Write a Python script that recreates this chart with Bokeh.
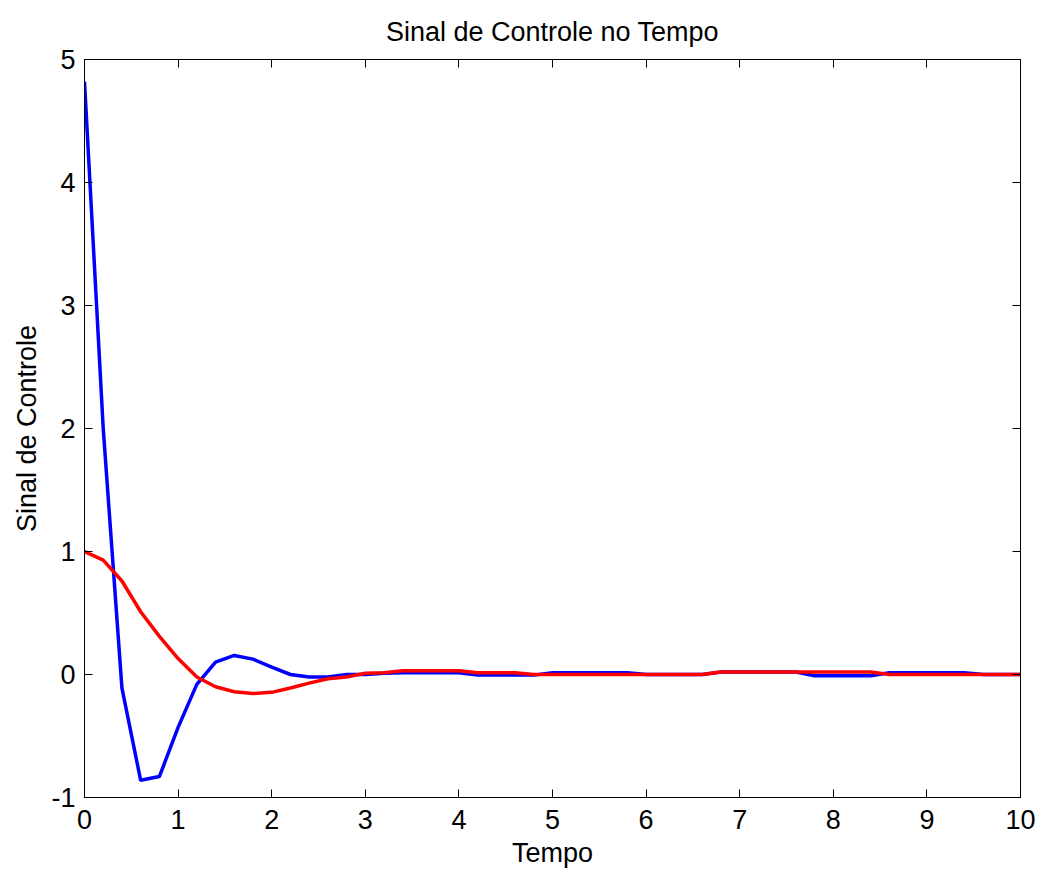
from bokeh.plotting import figure
from bokeh.models import LinearAxis, Range1d, FixedTicker, CustomJSTickFormatter
from bokeh.embed import file_html
from bokeh.resources import INLINE

t = [0.0, 0.2, 0.4, 0.6, 0.8, 1.0, 1.2, 1.4, 1.6, 1.8,
     2.0, 2.2, 2.4, 2.6, 2.8, 3.0, 3.2, 3.4, 3.6, 3.8,
     4.0, 4.2, 4.4, 4.6, 4.8, 5.0, 5.2, 5.4, 5.6, 5.8,
     6.0, 6.2, 6.4, 6.6, 6.8, 7.0, 7.2, 7.4, 7.6, 7.8,
     8.0, 8.2, 8.4, 8.6, 8.8, 9.0, 9.2, 9.4, 9.6, 9.8, 10.0]

u_blue = [4.82, 2.00, -0.11, -0.86, -0.83, -0.43, -0.08, 0.10, 0.155, 0.125,
          0.06, 0.0, -0.02, -0.02, 0.0, 0.0, 0.01, 0.015, 0.015, 0.015,
          0.015, -0.005, -0.005, -0.005, -0.005, 0.015, 0.015, 0.015, 0.015, 0.015,
          0.0, 0.0, 0.0, 0.0, 0.02, 0.02, 0.02, 0.02, 0.02, -0.01,
          -0.01, -0.01, -0.01, 0.015, 0.015, 0.015, 0.015, 0.015, 0.0, 0.0, 0.0]

u_red = [1.0, 0.93, 0.76, 0.51, 0.31, 0.13, -0.02, -0.10, -0.14, -0.155,
         -0.145, -0.11, -0.07, -0.035, -0.02, 0.01, 0.015, 0.03, 0.03, 0.03,
         0.03, 0.015, 0.015, 0.015, 0.0, 0.0, 0.0, 0.0, 0.0, 0.0,
         0.0, 0.0, 0.0, 0.0, 0.02, 0.02, 0.02, 0.02, 0.02, 0.02,
         0.02, 0.02, 0.02, 0.0, 0.0, 0.0, 0.0, 0.0, 0.0, 0.0, 0.0]

x_ticks = [0, 1, 2, 3, 4, 5, 6, 7, 8, 9, 10]
y_ticks = [-1, 0, 1, 2, 3, 4, 5]
y_tick_labels = ["-1", "0", "1", "2", "3", "4", "5"]

title_text = "Sinal de Controle no Tempo"
x_label = "Tempo"
y_label = "Sinal de Controle"

FONT = "Liberation Sans"
FS = "27px"

p = figure(frame_width=936, frame_height=738,
           x_range=Range1d(0, 10), y_range=Range1d(-1, 5),
           output_backend="svg", toolbar_location=None,
           min_border_left=84, min_border_right=22,
           min_border_top=59, min_border_bottom=77,
           title=title_text)

p.title.align = "center"
p.title.text_font = FONT
p.title.text_font_size = FS
p.title.text_font_style = "normal"
p.title.text_color = "black"
p.title.standoff = 26

p.xgrid.visible = False
p.ygrid.visible = False
p.outline_line_color = "black"
p.outline_line_width = 1
p.background_fill_color = "white"
p.border_fill_color = "white"

def style_axis(ax, ticks, label=None, show_labels=True, standoff=9):
    ax.ticker = FixedTicker(ticks=ticks)
    ax.major_tick_in = 8
    ax.major_tick_out = 0
    ax.minor_tick_in = 0
    ax.minor_tick_out = 0
    ax.axis_line_color = "black"
    ax.major_tick_line_color = "black"
    ax.major_label_text_font = FONT
    ax.major_label_text_font_size = FS
    ax.major_label_text_color = "black"
    ax.major_label_standoff = standoff
    if not show_labels:
        ax.formatter = CustomJSTickFormatter(code="return ''")
        ax.major_label_standoff = 0
    if label is not None:
        ax.axis_label = label
        ax.axis_label_text_font = FONT
        ax.axis_label_text_font_size = FS
        ax.axis_label_text_font_style = "normal"
        ax.axis_label_text_color = "black"
        ax.axis_label_standoff = 6

style_axis(p.xaxis[0], x_ticks, x_label, standoff=12)
style_axis(p.yaxis[0], y_ticks, y_label, standoff=9)
p.yaxis[0].major_label_overrides = {v: s for v, s in zip(y_ticks, y_tick_labels)}

top_ax = LinearAxis()
right_ax = LinearAxis()
style_axis(top_ax, x_ticks, show_labels=False)
style_axis(right_ax, y_ticks, show_labels=False)
p.add_layout(top_ax, "above")
p.add_layout(right_ax, "right")

p.line(t, u_blue, line_color="#0000FF", line_width=3.5)
p.line(t, u_red, line_color="#FF0000", line_width=3.5)

open("out.html", "w").write(file_html(p, INLINE))
